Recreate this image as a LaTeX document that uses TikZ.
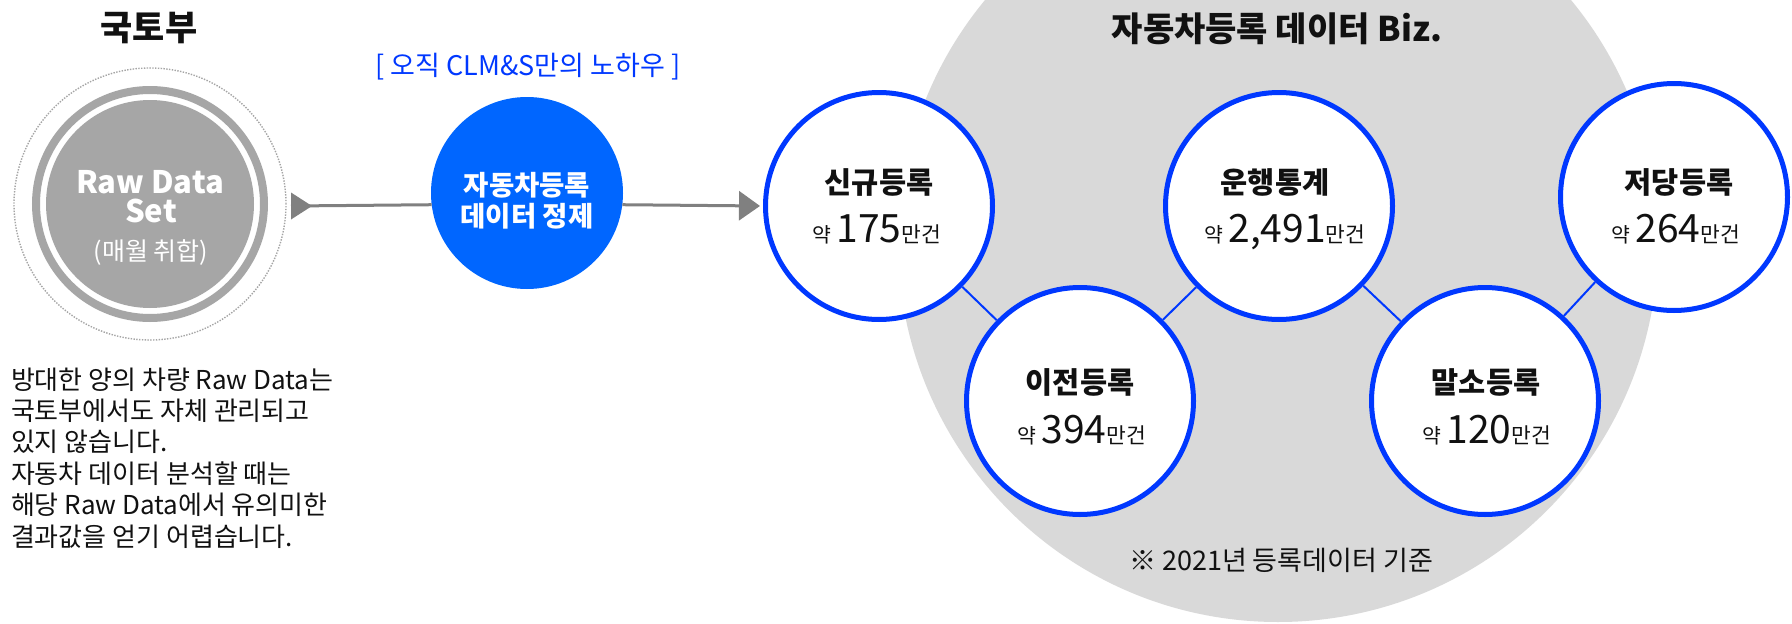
\documentclass[tikz,border=0pt]{standalone}
\usepackage{fontspec}
\setmainfont{Noto Sans CJK KR}
\usetikzlibrary{arrows.meta,calc}
\definecolor{bigray}{RGB}{217,217,217}
\definecolor{rawgray}{RGB}{166,166,166}
\definecolor{dotgray}{RGB}{165,165,165}
\definecolor{arrgray}{RGB}{128,128,128}
\definecolor{bizblue}{RGB}{0,56,255}
\definecolor{fillblue}{RGB}{0,102,255}
\definecolor{txt}{RGB}{17,17,17}
\newcommand\fsz[1]{\fontsize{#1pt}{#1pt}\selectfont}
\tikzset{
  bizcircle/.style={circle, draw=bizblue, line width=5pt, fill=white, minimum size=227pt, inner sep=0pt},
  link/.style={draw=bizblue, line width=2pt},
  flow/.style={draw=arrgray, line width=3pt},
  txtbase/.style={anchor=base, inner sep=0pt, outer sep=0pt},
  ctitle/.style={txtbase, font=\fsz{29.5}\bfseries, text=txt},
  cnum/.style={txtbase, text=txt},
  para/.style={anchor=base west, inner sep=0pt, outer sep=0pt, font=\fsz{26}, text=txt},
  whitetxt/.style={txtbase, text=white},
}
\newcommand\numtxt[1]{{\fsz{20.5}약}\hspace{5pt}{\fsz{39}#1}{\fsz{21.5}만건}}
\begin{document}
\begin{tikzpicture}[x=1pt,y=-1pt]
\useasboundingbox (0,0) rectangle (1792,624);
\fill[white] (0,0) rectangle (1792,624);
\clip (0,0) rectangle (1792,624);

% big gray area
\coordinate (bizc) at (1278,242);
\fill[bigray] (bizc) circle[radius=380pt];
\node[txtbase, font=\fsz{34}\bfseries, text=txt] (biztitle) at (1277,41) {자동차등록 데이터 Biz.};
\node[txtbase, font=\fsz{27}, text=txt] (note) at (1281,570) {※ 2021년 등록데이터 기준};

% left: raw data
\node[txtbase, font=\fsz{35}\bfseries, text=txt] (mol) at (149,40) {국토부};
\node[circle, fill=rawgray, minimum size=208pt, inner sep=0pt] (raw) at (150,204) {};
\draw[rawgray, line width=8pt] (raw.center) circle[radius=114pt];
\draw[dotgray, line width=1.4pt, dash pattern=on 1.4pt off 1.4pt] (raw.center) circle[radius=136pt];
\node[whitetxt, font=\fsz{31}\bfseries] (rawt1) at (150,193) {Raw Data};
\node[whitetxt, font=\fsz{31}\bfseries] (rawt2) at (151,222) {Set};
\node[whitetxt, font=\fsz{25}] (rawt3) at (151,260) {(매월 취합)};

% paragraph
\node[para] (p1) at (11,389) {방대한 양의 차량 Raw Data는};
\node[para] (p2) at (11,420.4) {국토부에서도 자체 관리되고};
\node[para] (p3) at (11,451.8) {있지 않습니다.};
\node[para] (p4) at (11,483.2) {자동차 데이터 분석할 때는};
\node[para] (p5) at (11,514.6) {해당 Raw Data에서 유의미한};
\node[para] (p6) at (11,546) {결과값을 얻기 어렵습니다.};

% refine
\node[txtbase, font=\fsz{27}, text=bizblue] (know) at (528,75) {[ 오직 CLM\&S만의 노하우 ]};
\node[circle, fill=fillblue, minimum size=192pt, inner sep=0pt] (refine) at (527,193) {};
\node[whitetxt, font=\fsz{27.5}\bfseries] (rf1) at (527,195) {자동차등록};
\node[whitetxt, font=\fsz{27.5}\bfseries] (rf2) at (527,226) {데이터 정제};

% biz circles
\node[bizcircle] (c1) at (879,206) {};
\node[bizcircle] (c2) at (1080,401) {};
\node[bizcircle] (c3) at (1279,206) {};
\node[bizcircle] (c4) at (1485,401) {};
\node[bizcircle] (c5) at (1674,197) {};
\draw[link] (c1) -- (c2);
\draw[link] (c2) -- (c3);
\draw[link] (c3) -- (c4);
\draw[link] (c4) -- (c5);

\node[ctitle] (t1) at (879,193.5) {신규등록};
\node[cnum] (n1) at (877,242) {\numtxt{175}};
\node[ctitle] (t2) at (1080,393.5) {이전등록};
\node[cnum] (n2) at (1082,443) {\numtxt{394}};
\node[ctitle] (t3) at (1275,193.5) {운행통계};
\node[cnum] (n3) at (1285,242) {\numtxt{2,491}};
\node[ctitle] (t4) at (1486,393.5) {말소등록};
\node[cnum] (n4) at (1487,443) {\numtxt{120}};
\node[ctitle] (t5) at (1679,193.5) {저당등록};
\node[cnum] (n5) at (1676,242) {\numtxt{264}};

% flow arrows
\coordinate (a1) at (291,206);
\draw[flow] (a1) -- (refine.187.8);
\fill[arrgray] (a1) ++(0,-13.5) -- ++(21,13.5) -- ++(-21,13.5) -- cycle;
\draw[flow, -{Triangle[length=21pt,width=29pt]}, shorten >=3pt] (refine.-7.8) -- (c1.west);
\end{tikzpicture}
\end{document}
